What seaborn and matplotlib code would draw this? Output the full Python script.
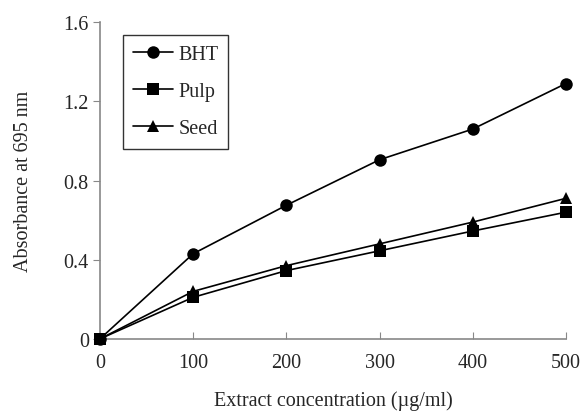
import matplotlib
matplotlib.use("Agg")
import matplotlib.pyplot as plt
import seaborn as sns
import pandas as pd

conc = [0, 100, 200, 300, 400, 500]
bht = [0, 0.43, 0.675, 0.905, 1.06, 1.29]
pulp = [0, 0.21, 0.345, 0.445, 0.545, 0.64]
seed = [0, 0.24, 0.37, 0.48, 0.59, 0.71]
series_names = ["BHT", "Pulp", "Seed"]

df = pd.concat([
    pd.DataFrame({"conc": conc, "abs": vals, "sample": name})
    for name, vals in zip(series_names, [bht, pulp, seed])
])

sns.set_style("white")
plt.rcParams['font.family'] = ['Liberation Serif', 'DejaVu Serif']

fig = plt.figure(figsize=(5.81, 4.14), dpi=100)
ax = fig.add_axes([0.172, 0.179, 0.802, 0.765])

sns.lineplot(data=df, x="conc", y="abs", hue="sample", style="sample",
             palette={n: "black" for n in series_names},
             markers={"BHT": "o", "Pulp": "s", "Seed": "^"},
             dashes=False, markersize=9, linewidth=1.2, markeredgewidth=0,
             ax=ax, clip_on=False, zorder=3)

ax.set_xlim(0, 500)
ax.set_ylim(0, 1.6)
ax.set_xticks([0, 100, 200, 300, 400, 500])
ax.set_yticks([0, 0.4, 0.8, 1.2, 1.6])
ax.set_yticklabels(["0", "0.4", "0.8", "1.2", "1.6"])
ax.set_xlabel("Extract concentration (µg/ml)", fontsize=14.5, labelpad=13)
ax.set_ylabel("Absorbance at 695 nm", fontsize=14.5, labelpad=22)

for s in ["top", "right"]:
    ax.spines[s].set_visible(False)
for s in ["left", "bottom"]:
    ax.spines[s].set_color("#888888")
    ax.spines[s].set_linewidth(1.2)

ax.tick_params(axis="y", direction="out", length=5, color="#888888", labelsize=14.5, left=True, pad=3)
ax.tick_params(axis="x", direction="in", length=5, color="#888888", labelsize=14.5, bottom=True, pad=10)

leg = ax.legend(loc="upper left", bbox_to_anchor=(0.049, 0.96), borderaxespad=0,
                fontsize=14.5, frameon=True, fancybox=False, edgecolor="black",
                handlelength=2.0, labelspacing=0.9, borderpad=0.5, handletextpad=0.25)
leg.get_frame().set_linewidth(1.0)

fig.savefig("out.png", dpi=100)
